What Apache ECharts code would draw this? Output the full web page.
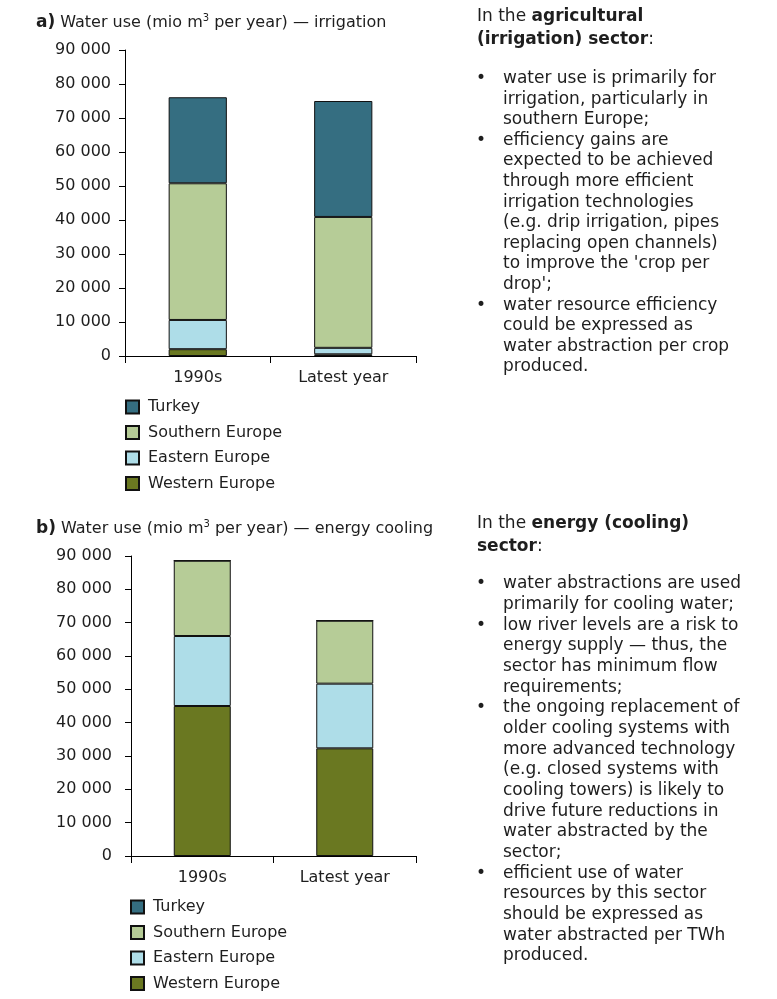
<!DOCTYPE html>
<html>
<head>
<meta charset="utf-8">
<script src="https://cdn.jsdelivr.net/npm/echarts@6/dist/echarts.min.js"></script>
<style>
html,body{margin:0;padding:0;background:#fff;}
#main{width:777px;height:999px;}
</style>
</head>
<body>
<div id="main"></div>
<script>
// ---- data ----
const categories = ['1990s', 'Latest year'];
const seriesNames = ['Turkey', 'Southern Europe', 'Eastern Europe', 'Western Europe'];
const irrigationWestern = [2000, 500];
const irrigationEastern = [8600, 1900];
const irrigationSouthern = [40200, 38500];
const irrigationTurkey = [25300, 34100];
const coolingWestern = [45000, 32300];
const coolingEastern = [21000, 19400];
const coolingSouthern = [22600, 18900];
const coolingTurkey = [0, 0];
const yMin = 0, yMax = 90000, yStep = 10000;

const textA = [
  '{n|In the }{b|agricultural}',
  '{b|(irrigation) sector}{n|:}'
];
const bulletsA = [
  ['water use is primarily for', 'irrigation, particularly in', 'southern Europe;'],
  ['efficiency gains are', 'expected to be achieved', 'through more efficient', 'irrigation technologies', '(e.g. drip irrigation, pipes', 'replacing open channels)', "to improve the 'crop per", "drop';"],
  ['water resource efficiency', 'could be expressed as', 'water abstraction per crop', 'produced.']
];
const textB = [
  '{n|In the }{b|energy (cooling)}',
  '{b|sector}{n|:}'
];
const bulletsB = [
  ['water abstractions are used', 'primarily for cooling water;'],
  ['low river levels are a risk to', 'energy supply \u2014 thus, the', 'sector has minimum flow', 'requirements;'],
  ['the ongoing replacement of', 'older cooling systems with', 'more advanced technology', '(e.g. closed systems with', 'cooling towers) is likely to', 'drive future reductions in', 'water abstracted by the', 'sector;'],
  ['efficient use of water', 'resources by this sector', 'should be expressed as', 'water abstracted per TWh', 'produced.']
];

// ---- styling ----
const FONT = "'DejaVu Sans', Verdana, sans-serif";
const TXT = '#1e1e1e';
const colors = {
  'Turkey': '#356e81',
  'Southern Europe': '#b6cc97',
  'Eastern Europe': '#aedde8',
  'Western Europe': '#6a7821'
};

function fmt(v) {
  return String(v).replace(/\B(?=(\d{3})+(?!\d))/g, ' ');
}

const chart = echarts.init(document.getElementById('main'), null, {renderer: 'canvas'});

const grids = [
  {left: 125, top: 50, width: 291, height: 306},
  {left: 131, top: 556, width: 285, height: 300}
];

function xAxis(i) {
  return {
    type: 'category', gridIndex: i, data: categories,
    axisLine: {lineStyle: {color: '#000', width: 1}},
    axisTick: {show: true, length: 7, lineStyle: {color: '#000'}},
    axisLabel: {color: TXT, fontFamily: FONT, fontSize: 16, margin: 14}
  };
}
function yAxis(i, margin) {
  return {
    type: 'value', gridIndex: i, min: yMin, max: yMax, interval: yStep,
    splitLine: {show: false},
    axisLine: {show: true, lineStyle: {color: '#000', width: 1}},
    axisTick: {show: true, length: 6, lineStyle: {color: '#000'}},
    axisLabel: {color: TXT, fontFamily: FONT, fontSize: 16, margin: margin, formatter: fmt}
  };
}

function bar(name, data, idx, stack) {
  return {
    name: name, type: 'bar', stack: stack, xAxisIndex: idx, yAxisIndex: idx,
    data: data, barWidth: '40%',
    itemStyle: {color: colors[name], borderColor: '#111', borderWidth: 1},
    emphasis: {disabled: true}
  };
}

const series = [
  bar('Western Europe', irrigationWestern, 0, 'a'),
  bar('Eastern Europe', irrigationEastern, 0, 'a'),
  bar('Southern Europe', irrigationSouthern, 0, 'a'),
  bar('Turkey', irrigationTurkey, 0, 'a'),
  bar('Western Europe', coolingWestern, 1, 'b'),
  bar('Eastern Europe', coolingEastern, 1, 'b'),
  bar('Southern Europe', coolingSouthern, 1, 'b'),
  bar('Turkey', coolingTurkey, 1, 'b')
];

function legend(left, top) {
  return {
    orient: 'vertical', left: left, top: top, data: seriesNames, padding: 0,
    itemWidth: 13, itemHeight: 13, itemGap: 9.5, icon: 'rect',
    selectedMode: false,
    textStyle: {color: TXT, fontFamily: FONT, fontSize: 16, lineHeight: 16, padding: [0, 0, 0, 4]}
  };
}

const richTitle = {
  b: {fontFamily: FONT, fontWeight: 'bold', fontSize: 17, color: TXT, padding: [0, 5, 0, 0]},
  n: {fontFamily: FONT, fontWeight: 'normal', fontSize: 16, color: TXT},
  s: {fontFamily: FONT, fontWeight: 'normal', fontSize: 10, color: TXT, padding: [0, 0, 9, 0]}
};

function title(letter, rest, top) {
  return {
    left: 31, top: top,
    text: '{b|' + letter + '}{n|Water use (mio m}{s|3}{n| per year) \u2014 ' + rest + '}',
    textStyle: {rich: richTitle, fontSize: 16, fontWeight: 'normal', lineHeight: 20}
  };
}

// text blocks
const BODY = 17;
const richBody = {
  n: {fontFamily: FONT, fontSize: BODY, color: TXT},
  b: {fontFamily: FONT, fontSize: BODY, fontWeight: 'bold', color: TXT}
};
const graphics = [];
function addBlock(header, bullets, headY, bulletY, step) {
  header.forEach(function (t, i) {
    graphics.push({
      type: 'text', x: 477, y: headY + i * 22.3,
      style: {text: t, rich: richBody, fill: TXT, font: BODY + 'px ' + FONT, verticalAlign: 'middle'}
    });
  });
  let k = 0;
  bullets.forEach(function (lines) {
    graphics.push({
      type: 'text', x: 476, y: bulletY + k * step,
      style: {text: '\u2022', fill: TXT, font: BODY + 'px ' + FONT, verticalAlign: 'middle'}
    });
    lines.forEach(function (ln) {
      graphics.push({
        type: 'text', x: 503, y: bulletY + k * step,
        style: {text: ln, fill: TXT, font: BODY + 'px ' + FONT, verticalAlign: 'middle'}
      });
      k++;
    });
  });
}
addBlock(textA, bulletsA, 17, 78.5, 20.6);
addBlock(textB, bulletsB, 524, 584, 20.67);

chart.setOption({
  animation: false,
  backgroundColor: '#fff',
  title: [title('a)', 'irrigation', 8), title('b)', 'energy cooling', 514)],
  grid: grids,
  xAxis: [xAxis(0), xAxis(1)],
  yAxis: [yAxis(0, 14), yAxis(1, 19)],
  legend: [legend(125, 399), legend(130, 899)],
  series: series,
  graphic: graphics
});
</script>
</body>
</html>
